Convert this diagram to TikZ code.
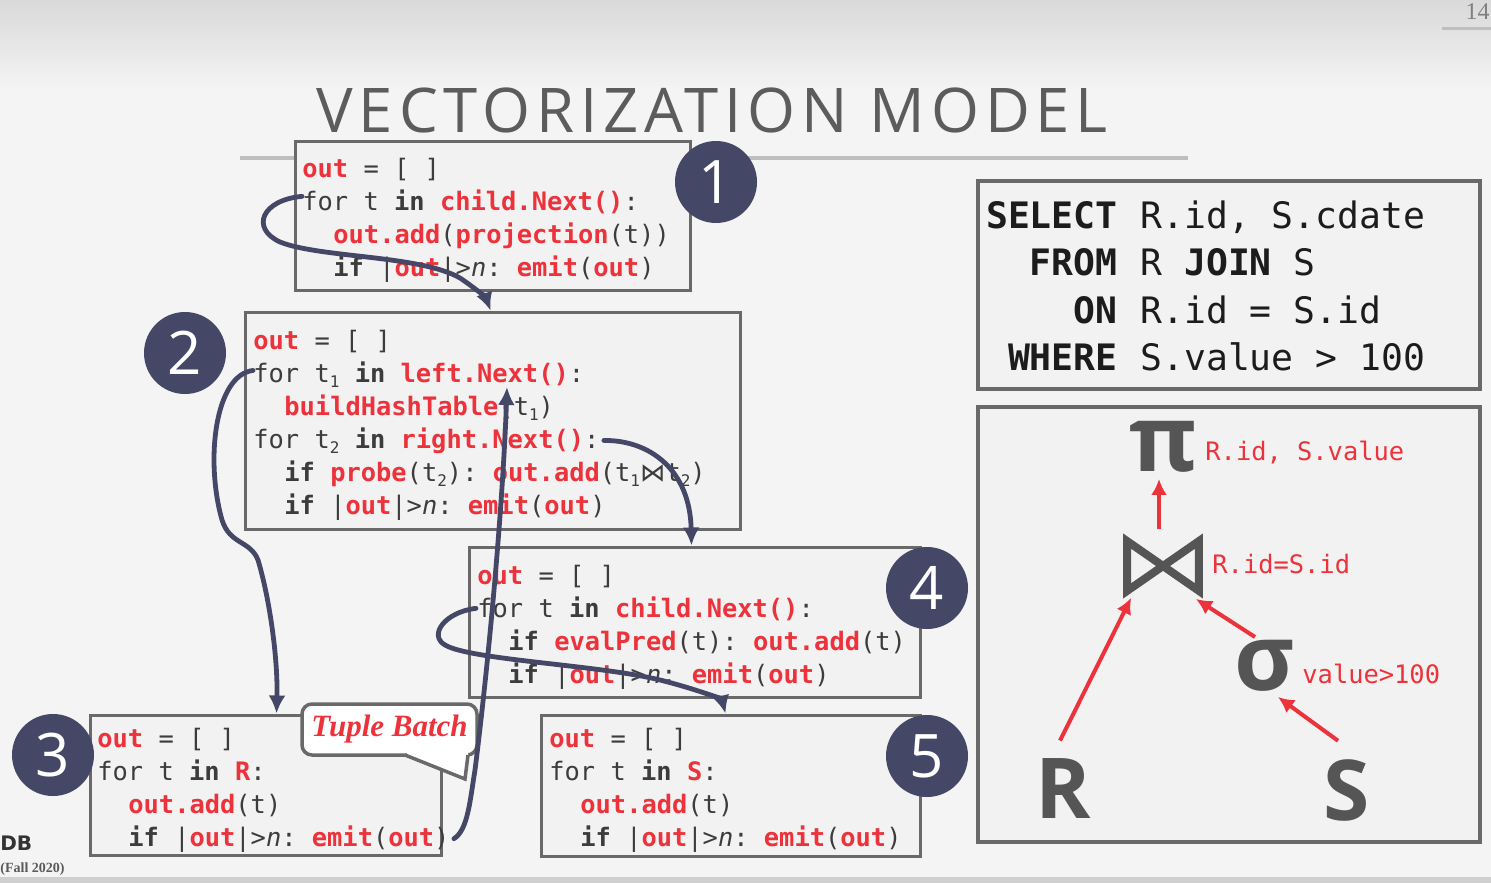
\documentclass[tikz,border=0pt]{standalone}
\usepackage{fontspec}
\setmonofont{DejaVu Sans Mono}
\newfontfamily\djs{DejaVu Sans}
\newfontfamily\osans{Open Sans}
\newfontfamily\titlefont[LetterSpace=9.5]{Open Sans}
\newfontfamily\fira{Fira Sans}
\newfontfamily\lserif{Liberation Serif}
\usetikzlibrary{arrows.meta,calc}
\definecolor{cred}{RGB}{236,50,58}
\definecolor{cdark}{RGB}{60,60,60}
\definecolor{navy}{RGB}{69,71,102}
\definecolor{bgc}{RGB}{244,244,244}
\definecolor{topgray}{RGB}{217,217,217}
\definecolor{boxfill}{RGB}{242,242,242}
\definecolor{boxline}{RGB}{105,105,105}
\definecolor{symgray}{RGB}{85,85,85}
\definecolor{rulegray}{RGB}{190,190,190}
\definecolor{titlegray}{RGB}{92,92,92}
\definecolor{sqlblack}{RGB}{28,28,28}
\newcommand\codefont{\ttfamily\fontsize{12.7}{15}\selectfont}
\newcommand\sqlfont{\ttfamily\fontsize{18.2}{22}\selectfont}
\newcommand\rd[1]{\textcolor{cred}{\bfseries #1}}
\newcommand\kw[1]{{\bfseries #1}}
\newcommand\tsub[1]{\raisebox{-0.4ex}{\fontsize{8}{8}\selectfont #1}}
\newcommand\vn{\textit{n}}
\begin{document}
\begin{tikzpicture}[x=0.5pt,y=-0.5pt,
  codebox/.style={draw=boxline, fill=boxfill, line width=1.5pt, inner sep=0pt},
  code/.style={anchor=base west, inner sep=0pt, font=\codefont, text=cdark},
  sqlkw/.style={anchor=base east, inner sep=0pt, font=\sqlfont\bfseries, text=sqlblack},
  sqltx/.style={anchor=base west, inner sep=0pt, font=\sqlfont, text=sqlblack},
  numcirc/.style={circle, fill=navy, minimum size=41pt, inner sep=0pt, text=white, font=\osans\fontsize{30}{30}\selectfont},
  conn/.style={draw=navy, line width=2.4pt, line cap=round, -{Latex[length=9pt,width=8.5pt]}},
  redarrow/.style={draw=cred, line width=2pt, -{Latex[length=8pt,width=8pt]}},
  treelab/.style={anchor=base west, inner sep=0pt, font=\codefont, text=cred},
  bigsym/.style={inner sep=0pt, text=symgray, font=\osans\bfseries\fontsize{46}{46}\selectfont},
  bigrel/.style={inner sep=0pt, text=symgray, font=\osans\bfseries\fontsize{42}{42}\selectfont}
]
\useasboundingbox (0,0) rectangle (1491,883);
% background
\fill[bgc] (0,0) rectangle (1491,883);
\shade[top color=topgray, bottom color=bgc] (0,0) rectangle (1491,90);
\fill[black!19] (0,877) rectangle (1491,883);
% title and rule
\draw[rulegray, line width=2pt] (240,158) -- (1188,158);
\node[anchor=base west, inner sep=0pt, text=titlegray, font=\titlefont\fontsize{30.8}{34}\selectfont] (title) at (316,132) {VECTORIZATION MODEL};
% slide number
\node[anchor=base east, inner sep=0pt, text=black!50, font=\lserif\fontsize{12}{12}\selectfont] (pnum) at (1490,20) {14};
\draw[rulegray, line width=1.5pt] (1442,29) -- (1491,29);
% footer
\node[anchor=base west, inner sep=0pt, text=black!80, font=\djs\bfseries\fontsize{10}{10}\selectfont] (logo) at (0,850) {DB};
\node[anchor=base west, inner sep=0pt, text=black!65, font=\lserif\bfseries\fontsize{7}{7}\selectfont] (term) at (0,872) {(Fall 2020)};

% code boxes
\node[codebox, minimum width=197.5pt, minimum height=74.5pt] (b1) at (492.5,215.5) {};
\node[codebox, minimum width=247.5pt, minimum height=108.5pt] (b2) at (492.5,420.5) {};
\node[codebox, minimum width=175.5pt, minimum height=70pt] (b3) at (265.5,785) {};
\node[codebox, minimum width=225.5pt, minimum height=75pt] (b4) at (694.5,622) {};
\node[codebox, minimum width=189.5pt, minimum height=70.5pt] (b5) at (730.5,785.5) {};

% box 1
\node[code] (l11) at (302,177) {\rd{out} = [ ]};
\node[code] (l12) at (302,210) {for t \kw{in} \rd{child.Next()}:};
\node[code] (l13) at (333,243) {\rd{out.add}(\rd{projection}(t))};
\node[code] (l14) at (333,276) {\kw{if} |\rd{out}|>\vn: \rd{emit}(\rd{out})};
% box 2
\node[code] (l21) at (253,349) {\rd{out} = [ ]};
\node[code] (l22) at (253,382) {for t\tsub{1} \kw{in} \rd{left.Next()}:};
\node[code] (l23) at (284,415) {\rd{buildHashTable}(t\tsub{1})};
\node[code] (l24) at (253,448) {for t\tsub{2} \kw{in} \rd{right.Next()}:};
\node[code] (l25) at (284,481) {\kw{if} \rd{probe}(t\tsub{2}): \rd{out.add}(t\tsub{1}{\djs ⋈}t\tsub{2})};
\node[code] (l26) at (284,514) {\kw{if} |\rd{out}|>\vn: \rd{emit}(\rd{out})};
% box 3
\node[code] (l31) at (97,747) {\rd{out} = [ ]};
\node[code] (l32) at (97,780) {for t \kw{in} \rd{R}:};
\node[code] (l33) at (128,813) {\rd{out.add}(t)};
\node[code] (l34) at (128,846) {\kw{if} |\rd{out}|>\vn: \rd{emit}(\rd{out})};
% box 4
\node[code] (l41) at (477,584) {\rd{out} = [ ]};
\node[code] (l42) at (477,617) {for t \kw{in} \rd{child.Next()}:};
\node[code] (l43) at (508,650) {\kw{if} \rd{evalPred}(t): \rd{out.add}(t)};
\node[code] (l44) at (508,683) {\kw{if} |\rd{out}|>\vn: \rd{emit}(\rd{out})};
% box 5
\node[code] (l51) at (549,747) {\rd{out} = [ ]};
\node[code] (l52) at (549,780) {for t \kw{in} \rd{S}:};
\node[code] (l53) at (580,813) {\rd{out.add}(t)};
\node[code] (l54) at (580,846) {\kw{if} |\rd{out}|>\vn: \rd{emit}(\rd{out})};

% tuple batch bubble
\node[draw=boxline, fill=white, line width=1.75pt, rounded corners=5pt, minimum width=87.5pt, minimum height=25.5pt, inner sep=0pt, text=cred, font=\lserif\bfseries\itshape\fontsize{15.5}{15.5}\selectfont] (tb) at (389.5,729.5) {Tuple Batch};
\fill[white] (407,750) -- (468,750) -- (468,758) -- (465,777) -- (407,758) -- cycle;
\draw[boxline, line width=1.75pt, line join=miter] (405,755) -- (465,779) -- (468,755);

% number circles
\node[numcirc] (c1) at (716,182) {1};
\node[numcirc] (c2) at (185,353) {2};
\node[numcirc] (c3) at (53,755) {3};
\node[numcirc] (c4) at (927,588) {4};
\node[numcirc] (c5) at (927,756) {5};

% SQL box
\node[draw=boxline, fill=boxfill, line width=2pt, minimum width=251pt, minimum height=104pt, inner sep=0pt] (sql) at (1229,285) {};
\node[sqlkw] (k1) at (1118,228) {SELECT};
\node[sqltx] (s1) at (1140,228) {R.id, S.cdate};
\node[sqlkw] (k2) at (1118,275) {FROM};
\node[sqltx] (s2) at (1140,275) {R \textbf{JOIN} S};
\node[sqlkw] (k3) at (1118,323) {ON};
\node[sqltx] (s3) at (1140,323) {R.id = S.id};
\node[sqlkw] (k4) at (1118,370) {WHERE};
\node[sqltx] (s4) at (1140,370) {S.value > 100};

% tree box
\node[draw=boxline, fill=boxfill, line width=2pt, minimum width=251pt, minimum height=217.5pt, inner sep=0pt] (tree) at (1229,624.5) {};
\node[bigsym] (piN) at (1163,447) {π};
\node[treelab] (pilab) at (1205,460) {R.id, S.value};
\node[minimum width=39.5pt, minimum height=28.5pt, inner sep=0pt] (join) at (1163,566) {};
\draw[symgray, line width=4pt, line join=miter] ([xshift=2pt,yshift=-2pt]join.north west) -- ([xshift=2pt,yshift=2pt]join.south west) -- ([xshift=-2pt,yshift=-2pt]join.north east) -- ([xshift=-2pt,yshift=2pt]join.south east) -- cycle;
\node[treelab] (joinlab) at (1212,573) {R.id=S.id};
\node[bigsym] (sig) at (1265,666) {σ};
\node[treelab] (siglab) at (1302,683) {value>100};
\node[bigrel] (Rn) at (1063,789) {R};
\node[bigrel] (Sn) at (1347,790) {S};
\draw[redarrow] ([xshift=-2pt,yshift=4pt]join.north) -- ([xshift=-2pt,yshift=-3pt]piN.south);
\draw[redarrow] ([xshift=-1.5pt,yshift=9pt]Rn.north) -- ([xshift=4pt,yshift=-1.5pt]join.south west);
\draw[redarrow] ([xshift=-5pt,yshift=1.5pt]sig.north) -- ([xshift=-3.5pt,yshift=-2pt]join.south east);
\draw[redarrow] ([xshift=-4.5pt,yshift=9pt]Sn.north) -- ([xshift=6.5pt,yshift=-2.5pt]sig.south);

% connectors
\coordinate (cc1) at (507,387);
\draw[conn] ([yshift=2.5pt]l12.west) .. controls (262,200) and (250,228) .. (280,242)
   .. controls (320,258) and (420,255) .. (460,278)
   .. controls (475,288) and (486,298) .. ([xshift=-1pt]b2.north);
\draw[conn] ([yshift=2pt]l22.west) .. controls (215,375) and (205,460) .. (222,520)
   .. controls (230,545) and (250,540) .. (258,560)
   .. controls (270,600) and (278,660) .. ([xshift=94pt]b3.north west);
\draw[conn] ([xshift=2pt]l34.east) .. controls (468,830) and (470,800) .. (475,770)
   .. controls (490,650) and (503,500) .. (cc1);
\draw[conn] ([xshift=2pt]l24.east) .. controls (650,440) and (690,470) .. ([xshift=112pt]b4.north west);
\draw[conn] ([xshift=-0.5pt]l42.west) .. controls (445,612) and (428,635) .. (445,645)
   .. controls (470,660) and (600,665) .. (660,680)
   .. controls (700,690) and (722,700) .. ([xshift=93pt]b5.north west);
\end{tikzpicture}
\end{document}
